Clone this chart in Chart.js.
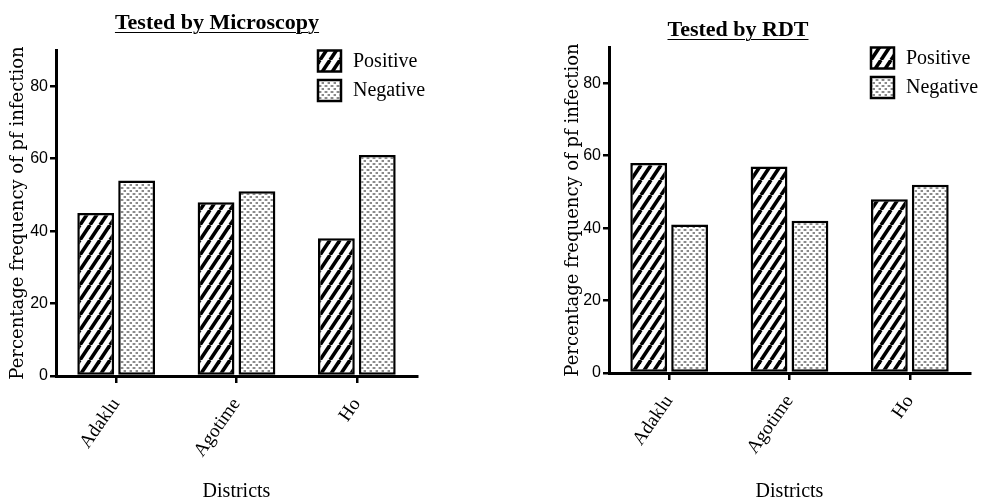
<!DOCTYPE html>
<html>
<head>
<meta charset="utf-8">
<script src="https://cdn.jsdelivr.net/npm/chart.js@4.4.1/dist/chart.umd.min.js"></script>
<style>
  body { margin: 0; background: #fff; }
  #wrap { position: relative; width: 982px; height: 504px; overflow: hidden; }
  .panel { position: absolute; top: 0; width: 491px; height: 504px; }
  .title {
    position: absolute;
    font: bold 22px 'Liberation Serif', serif;
    line-height: 22px;
    text-decoration: underline;
    text-decoration-thickness: 1px;
    text-underline-offset: 3px;
    white-space: nowrap;
    transform: translateX(-50%);
  }
</style>
</head>
<body>
<div id="wrap">
  <div class="panel" style="left:0"><canvas id="microChart" width="491" height="504"></canvas></div>
  <div class="panel" style="left:491px"><canvas id="rdtChart" width="491" height="504"></canvas></div>
  <div class="title" style="left:217px; top:11px">Tested by Microscopy</div>
  <div class="title" style="left:738px; top:18px">Tested by RDT</div>
</div>
<script>
const districts = ['Adaklu', 'Agotime', 'Ho'];
const seriesNames = ['Positive', 'Negative'];
const microPositive = [45, 48, 38];
const microNegative = [54, 51, 61];
const rdtPositive = [58, 57, 48];
const rdtNegative = [41, 42, 52];
const yTicks = [0, 20, 40, 60, 80];

const serif = "'Liberation Serif', serif";
const sans = "'Liberation Sans Narrow', 'Liberation Sans', sans-serif";

// black diagonal hatching for "Positive"
function stripePattern() {
  const c = document.createElement('canvas');
  c.width = 10; c.height = 15;
  const g = c.getContext('2d');
  g.fillStyle = '#fff';
  g.fillRect(0, 0, 10, 15);
  g.strokeStyle = '#000';
  g.lineWidth = 3.6;
  [-10, 0, 10].forEach(dx => {
    g.beginPath();
    g.moveTo(dx, 15);
    g.lineTo(dx + 10, 0);
    g.stroke();
  });
  return g.createPattern(c, 'repeat');
}

// light grey stipple for "Negative"
function dotPattern() {
  const c = document.createElement('canvas');
  c.width = 6; c.height = 6;
  const g = c.getContext('2d');
  g.fillStyle = '#fff';
  g.fillRect(0, 0, 6, 6);
  g.fillStyle = '#cfcfcf';
  g.fillRect(0, 1, 4, 2);
  g.fillRect(3, 4, 4, 2);
  g.fillStyle = '#8a8a8a';
  g.fillRect(1, 1, 2, 2);
  g.fillRect(4, 4, 2, 2);
  return g.createPattern(c, 'repeat');
}

const stripes = stripePattern();
const dots = dotPattern();

// legend drawn inside the plot, top right, like the original
const swatchLegend = {
  id: 'swatchLegend',
  afterDraw(chart) {
    const { ctx, chartArea } = chart;
    const x = chartArea.right - 99;
    ctx.save();
    chart.data.datasets.forEach((ds, i) => {
      const y = chartArea.top + 0.5 + i * 29.5;
      ctx.fillStyle = ds.backgroundColor;
      ctx.fillRect(x, y, 23, 21);
      ctx.lineWidth = 2.5;
      ctx.strokeStyle = '#000';
      ctx.strokeRect(x, y, 23, 21);
      ctx.fillStyle = '#000';
      ctx.font = '20px ' + serif;
      ctx.textBaseline = 'middle';
      ctx.fillText(ds.label, x + 35, y + 11);
    });
    ctx.restore();
  }
};

function makeChart(id, pos, neg, area) {
  return new Chart(document.getElementById(id), {
    type: 'bar',
    data: {
      labels: districts,
      datasets: [
        { label: seriesNames[0], data: pos, backgroundColor: stripes },
        { label: seriesNames[1], data: neg, backgroundColor: dots }
      ]
    },
    options: {
      responsive: false,
      animation: false,
      layout: { padding: { left: area.padLeft, right: 491 - area.right, top: area.top, bottom: 0 } },
      datasets: {
        bar: { categoryPercentage: 0.68, barPercentage: 0.9, borderColor: '#000', borderWidth: 2.5, borderSkipped: false }
      },
      plugins: {
        legend: { display: false },
        title: { display: false },
        tooltip: { enabled: false }
      },
      scales: {
        x: {
          offset: true,
          grid: { offset: false, drawOnChartArea: false, tickLength: 7, color: '#000', lineWidth: 2.5 },
          border: { color: '#000', width: 3 },
          ticks: { color: '#000', font: { family: serif, size: 19 }, minRotation: 55, maxRotation: 55, padding: 11 },
          title: { display: true, text: 'Districts', color: '#000', font: { family: serif, size: 20 }, padding: 0 },
          afterFit: s => { s.height = 504 - area.bottom; }
        },
        y: {
          min: 0,
          max: 90,
          afterBuildTicks: s => { s.ticks = yTicks.map(v => ({ value: v })); },
          grid: { drawOnChartArea: false, tickLength: 6, color: '#000', lineWidth: 2.5 },
          border: { color: '#000', width: 3 },
          ticks: { color: '#000', font: { family: sans, size: 16 }, padding: 2 },
          title: {
            display: true,
            text: 'Percentage frequency of pf infection',
            color: '#000',
            font: { family: "'DejaVu Serif', serif", size: 18 },
            padding: 0
          },
          afterFit: s => { s.width = area.left - area.padLeft; }
        }
      }
    },
    plugins: [swatchLegend]
  });
}

makeChart('microChart', microPositive, microNegative, { padLeft: 8, left: 56, right: 417, top: 50, bottom: 376 });
makeChart('rdtChart', rdtPositive, rdtNegative, { padLeft: 72, left: 118, right: 479, top: 47, bottom: 373 });
</script>
</body>
</html>
